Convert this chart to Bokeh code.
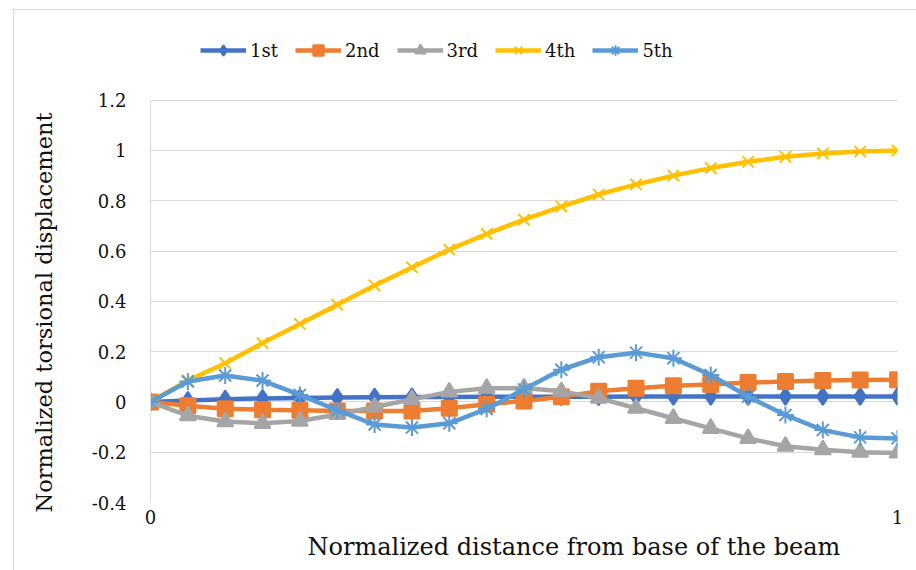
from bokeh.plotting import figure
from bokeh.models import Legend, LegendItem, FixedTicker, Title
from bokeh.embed import file_html
from bokeh.resources import INLINE

# ---- data ----
x_pos = [0, 0.05, 0.1, 0.15, 0.2, 0.25, 0.3, 0.35, 0.4, 0.45, 0.5,
         0.55, 0.6, 0.65, 0.7, 0.75, 0.8, 0.85, 0.9, 0.95, 1.0]
mode1 = [0, 0.006, 0.011, 0.014, 0.016, 0.018, 0.019, 0.02, 0.02, 0.021, 0.021,
         0.021, 0.021, 0.022, 0.022, 0.022, 0.022, 0.022, 0.022, 0.022, 0.022]
mode2 = [0, -0.015, -0.027, -0.031, -0.033, -0.036, -0.036, -0.036, -0.025, -0.009, 0.004,
         0.021, 0.042, 0.054, 0.064, 0.069, 0.077, 0.081, 0.085, 0.087, 0.088]
mode3 = [0, -0.055, -0.078, -0.085, -0.076, -0.05, -0.02, 0.01, 0.04, 0.054, 0.055,
         0.042, 0.015, -0.025, -0.065, -0.105, -0.145, -0.176, -0.19, -0.2, -0.203]
mode4 = [0, 0.085, 0.154, 0.234, 0.31, 0.386, 0.463, 0.535, 0.606, 0.668, 0.725,
         0.777, 0.825, 0.865, 0.9, 0.93, 0.955, 0.975, 0.988, 0.996, 1.0]
mode5 = [0, 0.081, 0.105, 0.085, 0.028, -0.033, -0.09, -0.102, -0.085, -0.028, 0.05,
         0.128, 0.178, 0.196, 0.174, 0.107, 0.021, -0.052, -0.112, -0.141, -0.145]

series_names = ["1st", "2nd", "3rd", "4th", "5th"]
series_values = [mode1, mode2, mode3, mode4, mode5]
series_colors = ["#4472C4", "#ED7D31", "#A5A5A5", "#FFC000", "#5B9BD5"]
series_markers = ["diamond", "square", "triangle", "x", "asterisk"]
marker_sizes = [17, 15, 16, 16, 17]

y_ticks = [-0.4, -0.2, 0, 0.2, 0.4, 0.6, 0.8, 1, 1.2]
y_tick_labels = ["-0.4", "-0.2", "0", "0.2", "0.4", "0.6", "0.8", "1", "1.2"]
x_ticks = [0, 1]
x_tick_labels = ["0", "1"]
x_title = "Normalized distance from base of the beam"
y_title = "Normalized torsional displacement"

FONT = "DejaVu Serif"
TXT = "#111111"
BORDER = "#D9D9D9"

# the frame reaches up over the legend strip; the value axis itself stops at 1.2
Y_AXIS_MIN, Y_AXIS_MAX, Y_VIEW_TOP = -0.4, 1.2, 1.517

p = figure(width=916, height=570, x_range=(0, 1), y_range=(Y_AXIS_MIN, Y_VIEW_TOP),
           output_backend="svg", toolbar_location=None,
           min_border_left=149, min_border_right=19,
           min_border_top=20, min_border_bottom=68)
# thin chart-area outline (top and left edges visible in the window)
p.styles = {"background":
            f"linear-gradient({BORDER},{BORDER}) 13px 9px / 1px 100% no-repeat, "
            f"linear-gradient({BORDER},{BORDER}) 13px 9px / 100% 1px no-repeat, white"}
p.outline_line_color = None
p.background_fill_color = "white"
p.border_fill_alpha = 0

# axes
p.yaxis.ticker = FixedTicker(ticks=y_ticks)
p.yaxis.bounds = (Y_AXIS_MIN, Y_AXIS_MAX)
p.yaxis.major_label_overrides = {t: l for t, l in zip(y_ticks, y_tick_labels)}
p.yaxis.axis_line_color = BORDER
p.yaxis.major_tick_line_color = None
p.yaxis.minor_tick_line_color = None
p.yaxis.major_tick_out = 0
p.yaxis.major_tick_in = 0
p.yaxis.major_label_standoff = 24
p.yaxis.major_label_text_font = FONT
p.yaxis.major_label_text_font_size = "18px"
p.yaxis.major_label_text_color = TXT

p.xaxis.ticker = FixedTicker(ticks=x_ticks)
p.xaxis.major_label_overrides = {t: l for t, l in zip(x_ticks, x_tick_labels)}
p.xaxis.axis_line_color = None
p.xaxis.major_tick_line_color = None
p.xaxis.minor_tick_line_color = None
p.xaxis.major_tick_out = 0
p.xaxis.major_tick_in = 0
p.xaxis.major_label_standoff = 7
p.xaxis.major_label_text_font = FONT
p.xaxis.major_label_text_font_size = "18px"
p.xaxis.major_label_text_color = TXT

p.xgrid.visible = False
p.ygrid.ticker = FixedTicker(ticks=y_ticks)
p.ygrid.grid_line_color = BORDER
p.ygrid.grid_line_width = 1

items = []
for name, vals, col, mk, ms in zip(series_names, series_values, series_colors,
                                   series_markers, marker_sizes):
    lr = p.line(x_pos, vals, line_color=col, line_width=4.5)
    sr = p.scatter(x_pos, vals, marker=mk, size=ms, fill_color=col,
                   line_color=col, line_width=2)
    items.append(LegendItem(label=name, renderers=[lr, sr]))

legend = Legend(items=items, orientation="horizontal", location=(50, 439),
                glyph_width=46, glyph_height=26, label_standoff=4, spacing=17,
                padding=5, margin=0, border_line_color=None,
                background_fill_alpha=0,
                label_text_font=FONT, label_text_font_size="18px",
                label_text_color=TXT)
p.add_layout(legend, "center")

p.add_layout(Title(text=x_title, align="left", offset=157, standoff=8,
                   text_font=FONT, text_font_size="24px",
                   text_font_style="normal", text_color=TXT), "below")
p.add_layout(Title(text=y_title, align="left", offset=-10, standoff=60,
                   vertical_align="top",
                   text_font=FONT, text_font_size="22.5px",
                   text_font_style="normal", text_color=TXT), "left")

open("out.html", "w").write(file_html(p, INLINE))
